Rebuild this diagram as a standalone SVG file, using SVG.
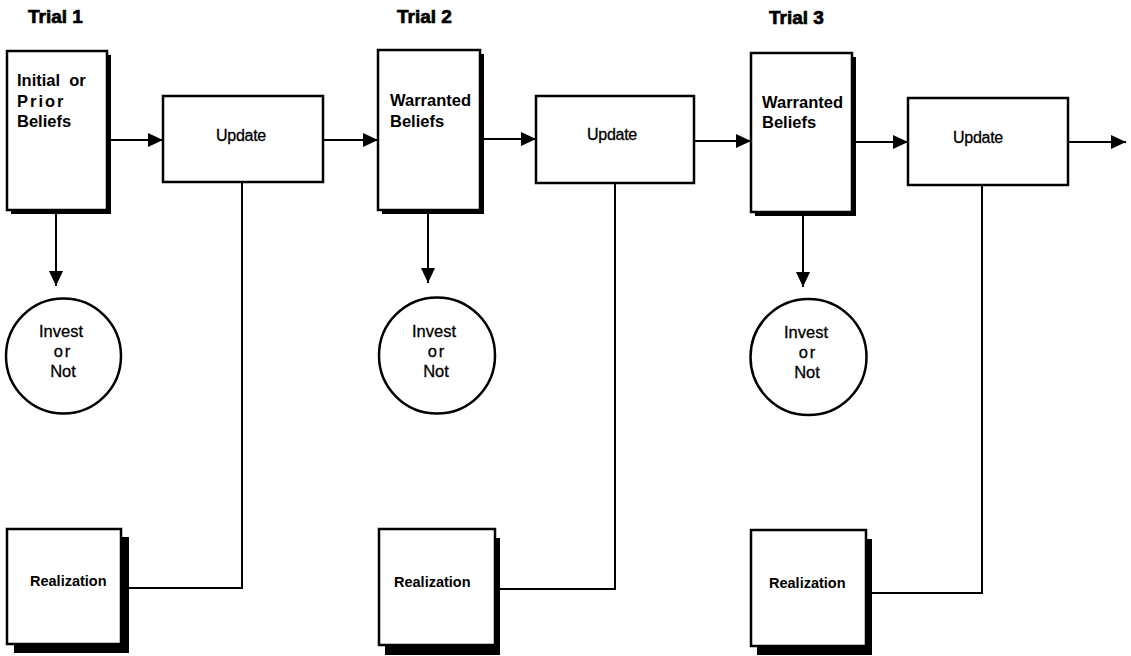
<svg xmlns="http://www.w3.org/2000/svg" width="1131" height="656" viewBox="0 0 1131 656">
<style>
.box{fill:#fff;stroke:#000;stroke-width:2.5}
.shadow{fill:#000}
.conn{fill:none;stroke:#000;stroke-width:2}
.title{font-family:"Liberation Sans",Arial,sans-serif;font-weight:bold;font-size:19px;fill:#000;stroke:#000;stroke-width:0.7}
.lbl{font-family:"Liberation Sans",Arial,sans-serif;font-weight:bold;font-size:16.5px;fill:#000}
.upd{font-family:"Liberation Sans",Arial,sans-serif;font-size:16px;fill:#000;stroke:#000;stroke-width:0.3;letter-spacing:-0.3px}
.circ{font-family:"Liberation Sans",Arial,sans-serif;font-size:16.5px;fill:#000;stroke:#000;stroke-width:0.3}
.real{font-family:"Liberation Sans",Arial,sans-serif;font-weight:bold;font-size:14.5px;fill:#000}
</style>
<defs>
<marker id="ah" markerUnits="userSpaceOnUse" markerWidth="16" markerHeight="14" refX="15" refY="7" orient="auto">
<path d="M0,0 L15,7 L0,14 z" fill="#000"/>
</marker>
</defs>
<rect width="1131" height="656" fill="#fff"/>

<g id="titles">
<text class="title" x="28" y="23">Trial 1</text>
<text class="title" x="397" y="23">Trial 2</text>
<text class="title" x="769" y="24">Trial 3</text>
</g>

<g id="connectors">
<line class="conn" x1="111" y1="140" x2="163" y2="140" marker-end="url(#ah)"/>
<line class="conn" x1="323" y1="140" x2="378" y2="140" marker-end="url(#ah)"/>
<line class="conn" x1="484" y1="139" x2="536" y2="139" marker-end="url(#ah)"/>
<line class="conn" x1="694" y1="141" x2="751" y2="141" marker-end="url(#ah)"/>
<line class="conn" x1="856" y1="142" x2="908" y2="142" marker-end="url(#ah)"/>
<line class="conn" x1="1068" y1="142" x2="1126" y2="142" marker-end="url(#ah)"/>
<line class="conn" x1="56" y1="213" x2="56" y2="286" marker-end="url(#ah)"/>
<line class="conn" x1="428" y1="213" x2="428" y2="283" marker-end="url(#ah)"/>
<line class="conn" x1="803" y1="215" x2="803" y2="287" marker-end="url(#ah)"/>
<polyline class="conn" points="129,588 242,588 242,182"/>
<polyline class="conn" points="500,589 615,589 615,183"/>
<polyline class="conn" points="872,593 982,593 982,185"/>
</g>

<g id="beliefs1">
<rect class="shadow" x="11" y="55" width="100" height="159"/>
<rect class="box" x="7" y="51" width="100" height="159"/>
<text class="lbl" x="17" y="86" xml:space="preserve">Initial  or</text>
<text class="lbl" x="17" y="107" letter-spacing="2">Prior</text>
<text class="lbl" x="17" y="127">Beliefs</text>
</g>
<g id="update1">
<rect class="box" x="163" y="96" width="160" height="86"/>
<text class="upd" x="241" y="141" text-anchor="middle">Update</text>
</g>
<g id="invest1">
<circle cx="63.5" cy="356" r="57.5" fill="#fff" stroke="#000" stroke-width="2.5"/>
<text class="circ" x="61" y="337" text-anchor="middle">Invest</text>
<text class="circ" x="63" y="357" text-anchor="middle" letter-spacing="2">or</text>
<text class="circ" x="63" y="377" text-anchor="middle">Not</text>
</g>
<g id="realization1">
<rect class="shadow" x="14" y="537" width="115" height="116"/>
<rect class="box" x="7" y="529" width="114" height="115"/>
<text class="real" x="30" y="586">Realization</text>
</g>

<g id="beliefs2">
<rect class="shadow" x="382" y="54" width="102" height="160"/>
<rect class="box" x="378" y="50" width="102" height="160"/>
<text class="lbl" x="390" y="106">Warranted</text>
<text class="lbl" x="390" y="127">Beliefs</text>
</g>
<g id="update2">
<rect class="box" x="536" y="96" width="158" height="87"/>
<text class="upd" x="612" y="140" text-anchor="middle">Update</text>
</g>
<g id="invest2">
<circle cx="437" cy="355.5" r="58" fill="#fff" stroke="#000" stroke-width="2.5"/>
<text class="circ" x="434" y="337" text-anchor="middle">Invest</text>
<text class="circ" x="437" y="357" text-anchor="middle" letter-spacing="2">or</text>
<text class="circ" x="436" y="377" text-anchor="middle">Not</text>
</g>
<g id="realization2">
<rect class="shadow" x="385" y="538" width="115" height="117"/>
<rect class="box" x="379" y="529" width="116" height="116"/>
<text class="real" x="394" y="587">Realization</text>
</g>

<g id="beliefs3">
<rect class="shadow" x="755" y="57" width="101" height="159"/>
<rect class="box" x="751" y="53" width="101" height="159"/>
<text class="lbl" x="762" y="108">Warranted</text>
<text class="lbl" x="762" y="128">Beliefs</text>
</g>
<g id="update3">
<rect class="box" x="908" y="98" width="160" height="87"/>
<text class="upd" x="978" y="143" text-anchor="middle">Update</text>
</g>
<g id="invest3">
<circle cx="808.5" cy="357" r="58" fill="#fff" stroke="#000" stroke-width="2.5"/>
<text class="circ" x="806" y="338" text-anchor="middle">Invest</text>
<text class="circ" x="808" y="358" text-anchor="middle" letter-spacing="2">or</text>
<text class="circ" x="807" y="378" text-anchor="middle">Not</text>
</g>
<g id="realization3">
<rect class="shadow" x="757" y="539" width="115" height="116"/>
<rect class="box" x="751" y="530" width="115" height="116"/>
<text class="real" x="769" y="588">Realization</text>
</g>
</svg>
